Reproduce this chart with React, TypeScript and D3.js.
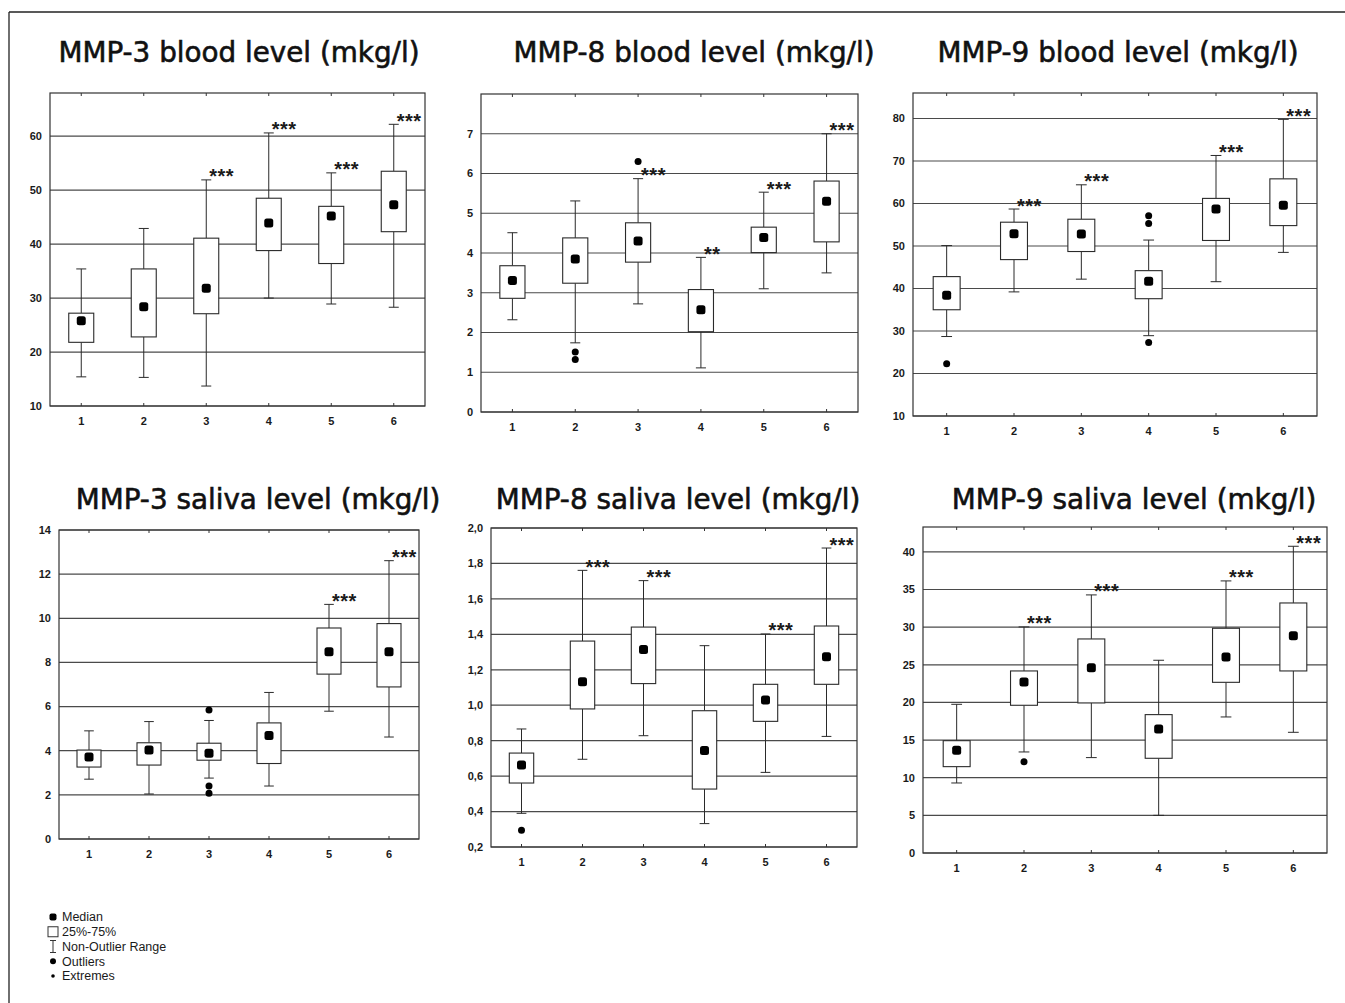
import React, { useRef, useEffect } from "react";
import * as d3 from "d3";

// Box stats per group: [whisker low, Q1 (25%), median, Q3 (75%), whisker high]
type Box = [number, number, number, number, number];

const categories = ["1", "2", "3", "4", "5", "6"];

const mmp3Blood: Box[] = [
  [15.4, 21.8, 25.8, 27.2, 35.4],
  [15.3, 22.8, 28.4, 35.4, 42.9],
  [13.7, 27.1, 31.8, 41.1, 51.9],
  [30.0, 38.8, 43.9, 48.5, 60.6],
  [28.9, 36.4, 45.2, 47.0, 53.2],
  [28.3, 42.3, 47.3, 53.5, 62.2],
];
const mmp3BloodOutliers: [string, number][] = [];
const mmp3BloodStars = ["", "", "***", "***", "***", "***"];
const mmp3BloodTicks = [10, 20, 30, 40, 50, 60];
const mmp3BloodRange: [number, number] = [10, 68];

const mmp8Blood: Box[] = [
  [2.32, 2.86, 3.31, 3.68, 4.51],
  [1.74, 3.24, 3.85, 4.38, 5.31],
  [2.72, 3.77, 4.3, 4.76, 5.87],
  [1.11, 2.02, 2.57, 3.08, 3.89],
  [3.1, 4.01, 4.39, 4.65, 5.53],
  [3.5, 4.28, 5.3, 5.81, 7.0],
];
const mmp8BloodOutliers: [string, number][] = [
  ["2", 1.51],
  ["2", 1.32],
  ["3", 6.3],
];
const mmp8BloodStars = ["", "", "***", "**", "***", "***"];
const mmp8BloodTicks = [0, 1, 2, 3, 4, 5, 6, 7];
const mmp8BloodRange: [number, number] = [0, 8];

const mmp9Blood: Box[] = [
  [28.7, 35.0, 38.4, 42.8, 50.1],
  [39.2, 46.8, 52.9, 55.6, 58.7],
  [42.2, 48.7, 52.8, 56.3, 64.4],
  [28.9, 37.6, 41.7, 44.2, 51.4],
  [41.6, 51.3, 58.7, 61.2, 71.3],
  [48.5, 54.8, 59.6, 65.8, 79.8],
];
const mmp9BloodOutliers: [string, number][] = [
  ["1", 22.3],
  ["4", 57.1],
  ["4", 55.3],
  ["4", 27.3],
];
const mmp9BloodStars = ["", "***", "***", "", "***", "***"];
const mmp9BloodTicks = [10, 20, 30, 40, 50, 60, 70, 80];
const mmp9BloodRange: [number, number] = [10, 86];

const mmp3Saliva: Box[] = [
  [2.71, 3.26, 3.71, 4.03, 4.9],
  [2.04, 3.35, 4.03, 4.36, 5.32],
  [2.76, 3.57, 3.88, 4.34, 5.37],
  [2.4, 3.42, 4.69, 5.26, 6.64],
  [5.79, 7.47, 8.48, 9.56, 10.63],
  [4.62, 6.89, 8.48, 9.76, 12.61],
];
const mmp3SalivaOutliers: [string, number][] = [
  ["3", 5.85],
  ["3", 2.4],
  ["3", 2.07],
];
const mmp3SalivaStars = ["", "", "", "", "***", "***"];
const mmp3SalivaTicks = [0, 2, 4, 6, 8, 10, 12, 14];
const mmp3SalivaRange: [number, number] = [0, 14];

const mmp8Saliva: Box[] = [
  [0.39, 0.561, 0.663, 0.73, 0.866],
  [0.695, 0.979, 1.133, 1.362, 1.761],
  [0.828, 1.122, 1.315, 1.441, 1.703],
  [0.332, 0.527, 0.745, 0.969, 1.336],
  [0.621, 0.909, 1.029, 1.118, 1.402],
  [0.824, 1.118, 1.274, 1.447, 1.887],
];
const mmp8SalivaOutliers: [string, number][] = [["1", 0.294]];
const mmp8SalivaStars = ["", "***", "***", "", "***", "***"];
const mmp8SalivaTicks = [0.2, 0.4, 0.6, 0.8, 1.0, 1.2, 1.4, 1.6, 1.8, 2.0];
const mmp8SalivaRange: [number, number] = [0.2, 2.0];

const mmp9Saliva: Box[] = [
  [9.3, 11.47, 13.64, 14.92, 19.75],
  [13.42, 19.62, 22.72, 24.18, 30.03],
  [12.67, 19.93, 24.62, 28.43, 34.28],
  [5.0, 12.58, 16.47, 18.38, 25.6],
  [18.07, 22.67, 26.04, 29.85, 36.14],
  [16.03, 24.18, 28.87, 33.21, 40.74],
];
const mmp9SalivaOutliers: [string, number][] = [["2", 12.13]];
const mmp9SalivaStars = ["", "***", "***", "", "***", "***"];
const mmp9SalivaTicks = [0, 5, 10, 15, 20, 25, 30, 35, 40];
const mmp9SalivaRange: [number, number] = [0, 43.3];

const legendItems = ["Median", "25%-75%", "Non-Outlier Range", "Outliers", "Extremes"];

interface Panel {
  title: string;
  boxes: Box[];
  outliers: [string, number][];
  stars: string[];
  ticks: number[];
  range: [number, number];
  comma?: boolean;
  // layout
  x0: number;
  x1: number;
  y0: number;
  y1: number;
  tx: number;
  ty: number;
}

const panels: Panel[] = [
  { title: "MMP-3 blood level (mkg/l)", boxes: mmp3Blood, outliers: mmp3BloodOutliers, stars: mmp3BloodStars, ticks: mmp3BloodTicks, range: mmp3BloodRange, x0: 50, x1: 425, y0: 93, y1: 406, tx: 239, ty: 62 },
  { title: "MMP-8 blood level (mkg/l)", boxes: mmp8Blood, outliers: mmp8BloodOutliers, stars: mmp8BloodStars, ticks: mmp8BloodTicks, range: mmp8BloodRange, x0: 481, x1: 858, y0: 94, y1: 412, tx: 694, ty: 62 },
  { title: "MMP-9 blood level (mkg/l)", boxes: mmp9Blood, outliers: mmp9BloodOutliers, stars: mmp9BloodStars, ticks: mmp9BloodTicks, range: mmp9BloodRange, x0: 913, x1: 1317, y0: 93, y1: 416, tx: 1118, ty: 62 },
  { title: "MMP-3 saliva level (mkg/l)", boxes: mmp3Saliva, outliers: mmp3SalivaOutliers, stars: mmp3SalivaStars, ticks: mmp3SalivaTicks, range: mmp3SalivaRange, x0: 59, x1: 419, y0: 530, y1: 839, tx: 258, ty: 509 },
  { title: "MMP-8 saliva level (mkg/l)", boxes: mmp8Saliva, outliers: mmp8SalivaOutliers, stars: mmp8SalivaStars, ticks: mmp8SalivaTicks, range: mmp8SalivaRange, comma: true, x0: 491, x1: 857, y0: 528, y1: 847, tx: 678, ty: 509 },
  { title: "MMP-9 saliva level (mkg/l)", boxes: mmp9Saliva, outliers: mmp9SalivaOutliers, stars: mmp9SalivaStars, ticks: mmp9SalivaTicks, range: mmp9SalivaRange, x0: 923, x1: 1327, y0: 527, y1: 853, tx: 1134, ty: 509 },
];

const INK = "#1a1a1a";
const GRID = "#4a4a4a";
const LABEL_FONT = "'Liberation Sans', Arial, sans-serif";

export default function App() {
  const svgRef = useRef<SVGSVGElement | null>(null);

  useEffect(() => {
    const svg = d3.select(svgRef.current);
    svg.selectAll("*").remove();

    // page frame (top + left edge of the scanned figure)
    svg.append("line").attr("x1", 9).attr("x2", 1345).attr("y1", 12).attr("y2", 12).attr("stroke", "#222").attr("stroke-width", 1.3);
    svg.append("line").attr("x1", 9).attr("x2", 9).attr("y1", 12).attr("y2", 1003).attr("stroke", "#222").attr("stroke-width", 1.3);

    panels.forEach((p) => {
      const g = svg.append("g");

      const x = d3.scaleBand<string>().domain(categories).range([p.x0, p.x1]).padding(0);
      const y = d3.scaleLinear().domain(p.range).range([p.y1, p.y0]);
      const cx = (c: string) => (x(c) ?? 0) + x.bandwidth() / 2;
      const boxW = x.bandwidth() * 0.4;
      const capW = x.bandwidth() * 0.16;

      // title
      g.append("text")
        .attr("x", p.tx)
        .attr("y", p.ty)
        .attr("text-anchor", "middle")
        .attr("font-family", "'DejaVu Sans', Verdana, sans-serif")
        .attr("font-size", 27.8)
        .attr("fill", "#111")
        .attr("stroke", "#111")
        .attr("stroke-width", 0.6)
        .text(p.title);

      // gridlines
      g.selectAll(".grid")
        .data(p.ticks)
        .join("line")
        .attr("x1", p.x0)
        .attr("x2", p.x1)
        .attr("y1", (d) => y(d))
        .attr("y2", (d) => y(d))
        .attr("stroke", GRID)
        .attr("stroke-width", 1.2);

      // frame
      g.append("rect")
        .attr("x", p.x0)
        .attr("y", p.y0)
        .attr("width", p.x1 - p.x0)
        .attr("height", p.y1 - p.y0)
        .attr("fill", "none")
        .attr("stroke", "#333")
        .attr("stroke-width", 1.2);

      // small category ticks on top and bottom edges
      categories.forEach((c) => {
        g.append("line").attr("x1", cx(c)).attr("x2", cx(c)).attr("y1", p.y0).attr("y2", p.y0 + 3).attr("stroke", "#333");
        g.append("line").attr("x1", cx(c)).attr("x2", cx(c)).attr("y1", p.y1).attr("y2", p.y1 - 3).attr("stroke", "#333");
      });

      // y tick labels
      const fmt = p.comma ? (d: number) => d3.format(".1f")(d).replace(".", ",") : (d: number) => String(d);
      g.selectAll(".ylab")
        .data(p.ticks)
        .join("text")
        .attr("x", p.x0 - 8)
        .attr("y", (d) => y(d))
        .attr("dy", "0.35em")
        .attr("text-anchor", "end")
        .attr("font-family", LABEL_FONT)
        .attr("font-weight", "bold")
        .attr("font-size", 11)
        .attr("fill", INK)
        .text((d) => fmt(d));

      // x tick labels
      g.selectAll(".xlab")
        .data(categories)
        .join("text")
        .attr("x", (d) => cx(d))
        .attr("y", p.y1 + 19)
        .attr("text-anchor", "middle")
        .attr("font-family", LABEL_FONT)
        .attr("font-weight", "bold")
        .attr("font-size", 11)
        .attr("fill", INK)
        .text((d) => d);

      // boxes
      p.boxes.forEach((b, i) => {
        const c = categories[i];
        const mx = cx(c);
        const [lo, q1, med, q3, hi] = b;
        const wg = g.append("g").attr("stroke", "#2a2a2a").attr("stroke-width", 1);
        wg.append("line").attr("x1", mx).attr("x2", mx).attr("y1", y(hi)).attr("y2", y(q3));
        wg.append("line").attr("x1", mx).attr("x2", mx).attr("y1", y(q1)).attr("y2", y(lo));
        wg.append("line").attr("x1", mx - capW / 2).attr("x2", mx + capW / 2).attr("y1", y(hi)).attr("y2", y(hi));
        wg.append("line").attr("x1", mx - capW / 2).attr("x2", mx + capW / 2).attr("y1", y(lo)).attr("y2", y(lo));
        wg.append("rect")
          .attr("x", mx - boxW / 2)
          .attr("y", y(q3))
          .attr("width", boxW)
          .attr("height", y(q1) - y(q3))
          .attr("fill", "#fff")
          .attr("stroke-width", 1.1);
        g.append("rect")
          .attr("x", mx - 4.5)
          .attr("y", y(med) - 4.5)
          .attr("width", 9)
          .attr("height", 9)
          .attr("rx", 2.5)
          .attr("fill", "#000");

        if (p.stars[i]) {
          g.append("text")
            .attr("x", mx + 3)
            .attr("y", y(hi) + 3.5)
            .attr("text-anchor", "start")
            .attr("font-family", LABEL_FONT)
            .attr("font-weight", "bold")
            .attr("font-size", 20)
            .attr("letter-spacing", 0.5)
            .attr("fill", INK)
            .text(p.stars[i]);
        }
      });

      // outliers
      g.selectAll(".out")
        .data(p.outliers)
        .join("circle")
        .attr("cx", (d) => cx(d[0]))
        .attr("cy", (d) => y(d[1]))
        .attr("r", 3.5)
        .attr("fill", "#000");
    });

    // legend
    const lg = svg.append("g").attr("font-family", LABEL_FONT).attr("font-size", 12.5).attr("fill", INK);
    const rowY = d3.scalePoint<string>().domain(legendItems).range([917, 976]);
    const ix = 53;
    lg.append("rect").attr("x", ix - 3.5).attr("y", rowY("Median")! - 3.5).attr("width", 7).attr("height", 7).attr("rx", 2).attr("fill", "#000");
    lg.append("rect").attr("x", ix - 5).attr("y", rowY("25%-75%")! - 5).attr("width", 10).attr("height", 10).attr("fill", "#fff").attr("stroke", "#333");
    const ny = rowY("Non-Outlier Range")!;
    lg.append("line").attr("x1", ix).attr("x2", ix).attr("y1", ny - 6).attr("y2", ny + 6).attr("stroke", "#333");
    lg.append("line").attr("x1", ix - 3).attr("x2", ix + 3).attr("y1", ny - 6).attr("y2", ny - 6).attr("stroke", "#333");
    lg.append("line").attr("x1", ix - 3).attr("x2", ix + 3).attr("y1", ny + 6).attr("y2", ny + 6).attr("stroke", "#333");
    lg.append("circle").attr("cx", ix).attr("cy", rowY("Outliers")!).attr("r", 3).attr("fill", "#000");
    lg.append("circle").attr("cx", ix).attr("cy", rowY("Extremes")!).attr("r", 1.8).attr("fill", "#000");
    lg.selectAll(".lt")
      .data(legendItems)
      .join("text")
      .attr("x", 62)
      .attr("y", (d) => rowY(d)!)
      .attr("dy", "0.35em")
      .text((d) => d);
  }, []);

  return (
    <svg
      ref={svgRef}
      width={1345}
      height={1003}
      style={{ position: "absolute", left: 0, top: 0, background: "#fff" }}
    />
  );
}
